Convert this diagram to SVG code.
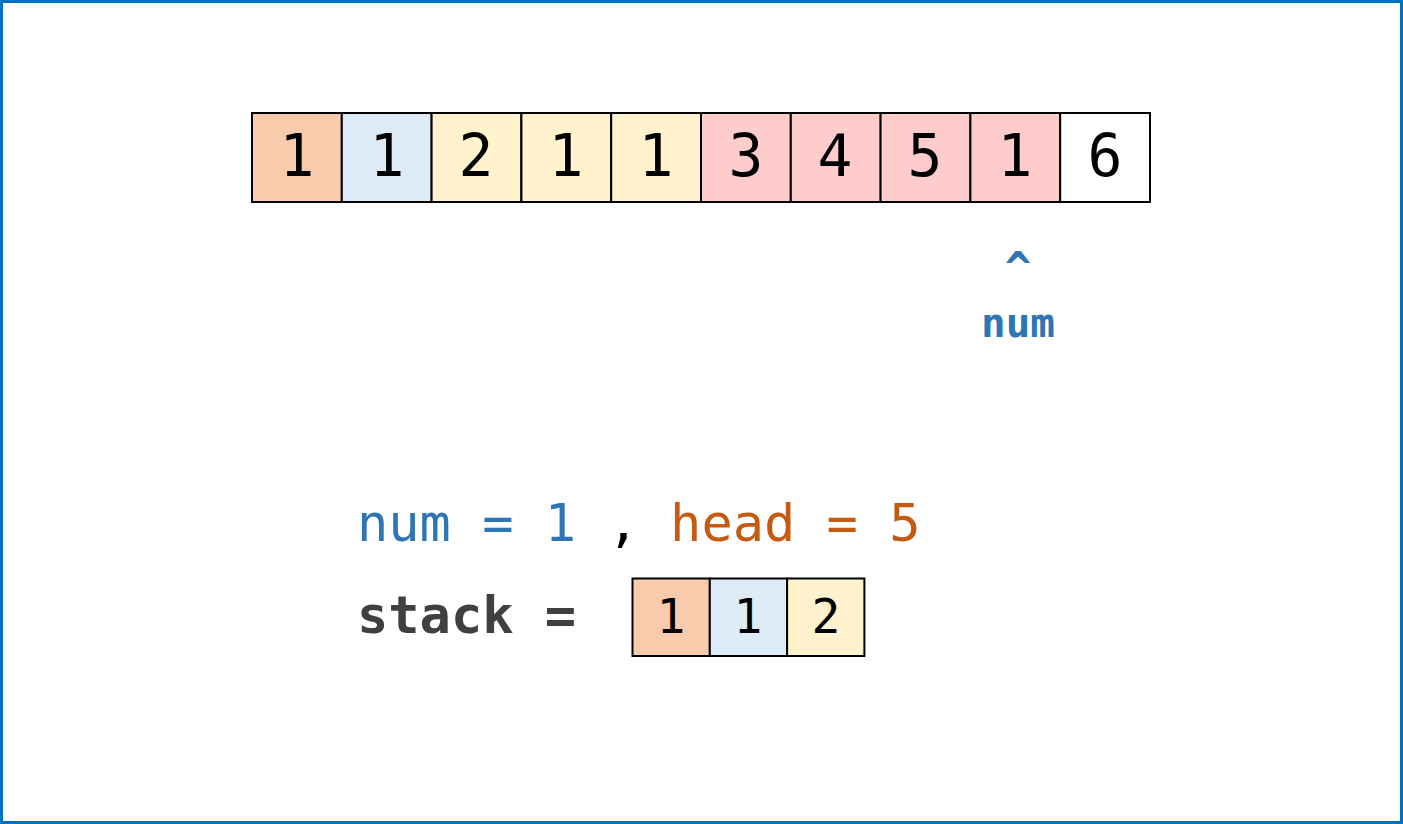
<svg xmlns="http://www.w3.org/2000/svg" width="1403" height="824" viewBox="0 0 1403 824">
<style>
.c{stroke:#000;stroke-width:2}
.o{fill:#F8CBAD}.b{fill:#DDEBF7}.y{fill:#FFF2CC}.p{fill:#FFCCCC}.w{fill:#FFFFFF}
.d{font-family:"DejaVu Sans Mono","Liberation Mono",monospace;font-size:58px;fill:#000;text-anchor:middle}
.s{font-family:"DejaVu Sans Mono","Liberation Mono",monospace;font-size:48px;fill:#000;text-anchor:middle}
.m{font-family:"DejaVu Sans Mono","Liberation Mono",monospace;font-size:52px}
</style>
<rect x="1.5" y="1.5" width="1400" height="821" fill="#fff" stroke="#0070C0" stroke-width="3"/>
<g id="array">
<rect class="c o" x="252" y="113" width="89.8" height="89"/>
<rect class="c b" x="341.8" y="113" width="89.8" height="89"/>
<rect class="c y" x="431.6" y="113" width="89.8" height="89"/>
<rect class="c y" x="521.4" y="113" width="89.8" height="89"/>
<rect class="c y" x="611.2" y="113" width="89.8" height="89"/>
<rect class="c p" x="701" y="113" width="89.8" height="89"/>
<rect class="c p" x="790.8" y="113" width="89.8" height="89"/>
<rect class="c p" x="880.6" y="113" width="89.8" height="89"/>
<rect class="c p" x="970.4" y="113" width="89.8" height="89"/>
<rect class="c w" x="1060.2" y="113" width="89.8" height="89"/>
<text class="d" x="297" y="176">1</text>
<text class="d" x="387" y="176">1</text>
<text class="d" x="476" y="176">2</text>
<text class="d" x="566" y="176">1</text>
<text class="d" x="656" y="176">1</text>
<text class="d" x="746" y="176">3</text>
<text class="d" x="835" y="176">4</text>
<text class="d" x="925" y="176">5</text>
<text class="d" x="1015" y="176">1</text>
<text class="d" x="1105" y="176">6</text>
</g>
<g id="pointer" font-family="DejaVu Sans Mono,Liberation Mono,monospace" font-weight="bold" fill="#2E75B6" text-anchor="middle">
<text x="1018" y="283" font-size="44">^</text>
<text x="1018" y="337" font-size="41">num</text>
</g>
<g id="vars">
<text class="m" x="357" y="541" xml:space="preserve"><tspan fill="#2E75B6">num = 1</tspan><tspan fill="#000"> , </tspan><tspan fill="#C55A11">head = 5</tspan></text>
<text class="m" x="357" y="633" font-weight="bold" fill="#404040">stack =</text>
</g>
<g id="stack">
<rect class="c o" x="632.5" y="578.5" width="77.3" height="77.5"/>
<rect class="c b" x="709.8" y="578.5" width="77.3" height="77.5"/>
<rect class="c y" x="787.1" y="578.5" width="77.3" height="77.5"/>
<text class="s" x="671" y="633">1</text>
<text class="s" x="748" y="633">1</text>
<text class="s" x="826" y="633">2</text>
</g>
</svg>
